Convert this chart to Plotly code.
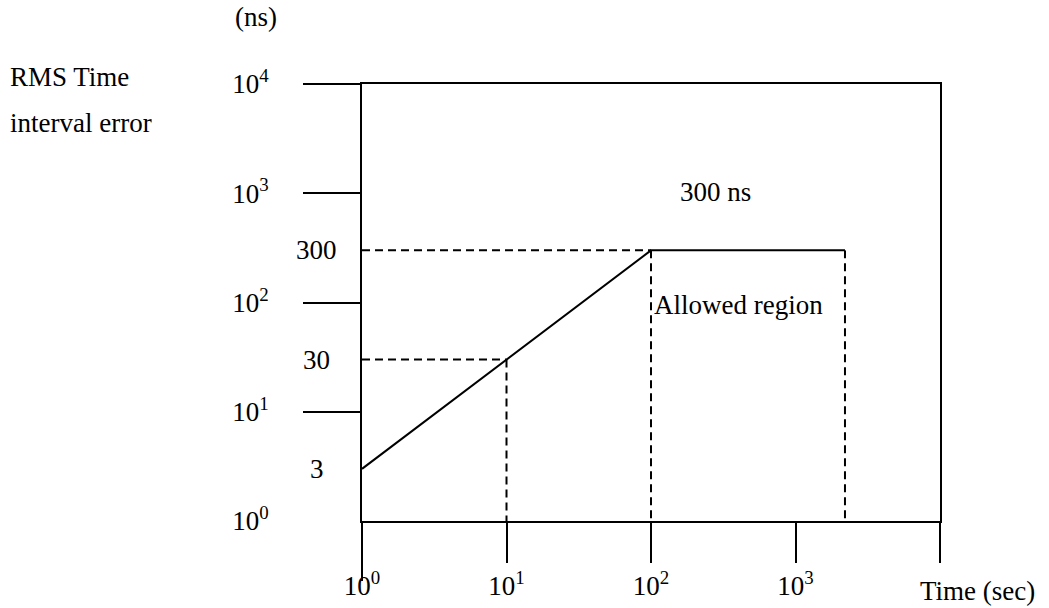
import plotly.graph_objects as go
import math

# ---- data ----
decades = [1, 10, 100, 1000, 10000]
x_tick_labels = ["10<sup>0</sup>", "10<sup>1</sup>", "10<sup>2</sup>", "10<sup>3</sup>", ""]
y_tick_labels = ["10<sup>0</sup>", "10<sup>1</sup>", "10<sup>2</sup>", "10<sup>3</sup>", "10<sup>4</sup>"]
mask_time = [1, 10, 100, 2200]      # seconds
mask_tie = [3, 30, 300, 300]        # ns
level_values = [3, 30, 300]
level_labels = ["3", "30", "300"]

FONT = "Liberation Serif, Times New Roman, serif"
FS = 27

# dashed guides derived from the mask corners
guide_x, guide_y = [], []
for t, v in zip(mask_time[1:3], mask_tie[1:3]):
    guide_x += [mask_time[0], t, None]
    guide_y += [v, v, None]
for t, v in zip(mask_time[1:], mask_tie[1:]):
    guide_x += [t, t, None]
    guide_y += [v, decades[0], None]

fig = go.Figure()
fig.add_trace(go.Scatter(x=guide_x, y=guide_y, mode="lines",
                         line=dict(color="black", width=2, dash="8px,5px"),
                         hoverinfo="skip", showlegend=False))
fig.add_trace(go.Scatter(x=mask_time, y=mask_tie, mode="lines",
                         line=dict(color="black", width=2),
                         showlegend=False))
# dummy trace to activate overlay axes (extra tick marks)
fig.add_trace(go.Scatter(x=[decades[0]], y=[decades[0]], mode="none",
                         xaxis="x2", yaxis="y2", hoverinfo="skip", showlegend=False))

axis_common = dict(type="log", range=[0, 4], showgrid=False, zeroline=False, automargin=False)

fig.update_layout(
    width=1049, height=608,
    margin=dict(l=362, r=109, t=84, b=87, autoexpand=False),
    paper_bgcolor="white", plot_bgcolor="white",
    font=dict(family=FONT, size=FS, color="black"),
    xaxis=dict(**axis_common, tickmode="array", tickvals=decades, ticktext=x_tick_labels,
               ticks="outside", ticklen=40, tickwidth=2, tickcolor="black",
               showline=True, linecolor="black", linewidth=2, mirror=True,
               ticklabelstandoff=0,
               tickfont=dict(family=FONT, size=FS, color="black")),
    yaxis=dict(**axis_common, tickmode="array", tickvals=decades, ticktext=y_tick_labels,
               ticks="", showline=True, linecolor="black", linewidth=2, mirror=True,
               ticklabelstandoff=86,
               tickfont=dict(family=FONT, size=FS, color="black")),
    xaxis2=dict(**axis_common, overlaying="x", anchor="y", side="bottom",
                tickmode="array", tickvals=decades[:1], ticks="outside", ticklen=59,
                tickwidth=2, tickcolor="black", showticklabels=False, showline=False),
    yaxis2=dict(**axis_common, overlaying="y", anchor="x", side="left",
                tickmode="array", tickvals=decades[1:], ticks="outside", ticklen=58,
                tickwidth=2, tickcolor="black", showticklabels=False, showline=False),
)

annotations = []
for v, lab in zip(level_values, level_labels):
    annotations.append(dict(text=lab, xref="paper", yref="y", x=-0.078, y=math.log10(v),
                            xanchor="center", yanchor="middle", showarrow=False))
annotations += [
    dict(text="(ns)", xref="paper", yref="paper", x=-0.183, y=1.153,
         xanchor="center", yanchor="middle", showarrow=False),
    dict(text="RMS Time", xref="paper", yref="paper", x=-0.6125, y=1.016,
         xanchor="left", yanchor="middle", showarrow=False),
    dict(text="interval error", xref="paper", yref="paper", x=-0.6125, y=0.911,
         xanchor="left", yanchor="middle", showarrow=False),
    dict(text="Time (sec)", xref="paper", yref="paper", x=0.962, y=-0.160,
         xanchor="left", yanchor="middle", showarrow=False),
    dict(text="300 ns", xref="paper", yref="paper", x=0.612, y=0.753,
         xanchor="center", yanchor="middle", showarrow=False),
    dict(text="Allowed region", xref="paper", yref="paper", x=0.652, y=0.494,
         xanchor="center", yanchor="middle", showarrow=False),
]
fig.update_layout(annotations=annotations)

fig.write_html("out.html", config={"displayModeBar": False},
               post_script="document.body.style.margin='0px';document.body.style.overflow='hidden';")
